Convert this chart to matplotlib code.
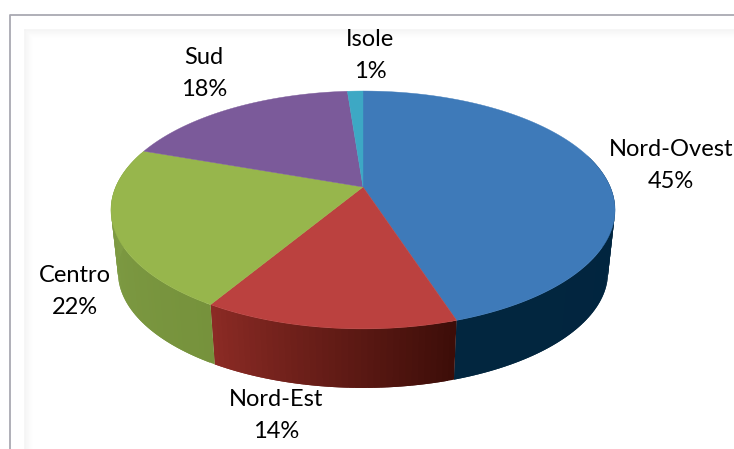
import numpy as np
import matplotlib
matplotlib.use('Agg')
import matplotlib.pyplot as plt
from matplotlib.colors import to_rgb
from matplotlib.patches import Polygon

categories = ['Nord-Ovest', 'Nord-Est', 'Centro', 'Sud', 'Isole']
values = [45.0, 13.6, 21.8, 18.4, 1.2]
shown_pct = [45, 14, 22, 18, 1]

top_colors = ['#3e7ab9', '#bb413f', '#97b64c', '#7b5a9a', '#3da8c4']
# side colour at the left and right end of each slice
side_left = ['#02263f', '#8c2b25', '#82a047', '#5f4678', '#2f8aa0']
side_right = ['#00233f', '#3c0d08', '#76923c', '#5f4678', '#2f8aa0']
label_xy = [(671, 166), (276, 415), (75, 291), (204, 74), (370, 56)]

plt.rcParams['font.family'] = ['Lato', 'DejaVu Sans']

fig = plt.figure(figsize=(7.34, 4.49), dpi=100)
ax = fig.add_axes([0, 0, 1, 1])
ax.set_xlim(0, 734)
ax.set_ylim(449, 0)
ax.axis('off')

# perspective of the disc: the centre sits above the middle of the ellipse
CX = 363
K = 0.193


def project(theta, cy, a, b):
    u = np.sin(theta)
    v = np.cos(theta)
    d = 1 + K * v
    return CX + a * u / d, cy - b * v / d


def top_pt(theta):
    return project(theta, 187, 247.3, 114.5)


def bottom_pt(theta):
    return project(theta, 250, 240.4, 111.3)


# frame and soft inner shadow
for i in range(8):
    c = str(0.955 + i * 0.006)
    ax.plot([25 + i, 25 + i], [30 + i, 449], color=c, lw=1.1, zorder=1)
    ax.plot([25 + i, 734], [30 + i, 30 + i], color=c, lw=1.1, zorder=1)
ax.plot([9.5, 9.5, 734], [449, 14.5, 14.5], color='#a9a9b2', lw=1.3, zorder=2)

edges = np.concatenate([[0], np.cumsum(values)]) / sum(values) * 2 * np.pi

# side wall, thin overlapping strips painted in order so no seams show
for i in range(len(values)):
    th = np.linspace(edges[i], edges[i + 1], max(int(values[i] * 3), 4) + 1)
    c_start = np.array(to_rgb(side_right[i]))
    c_end = np.array(to_rgb(side_left[i]))
    n = len(th) - 1
    for j in range(n):
        if np.cos(th[j]) > 0.3:
            continue
        part = np.linspace(th[j], th[min(j + 2, n)], 8)
        tx, ty = top_pt(part)
        bx, by = bottom_pt(part)
        pts = list(zip(tx, ty)) + list(zip(bx[::-1], by[::-1]))
        f = (j + 0.5) / n
        col = c_start * (1 - f) + c_end * f
        ax.add_patch(Polygon(pts, closed=True, facecolor=col, edgecolor='none', zorder=3))

# top face
for i in range(len(values)):
    th = np.linspace(edges[i], edges[i + 1], 200)
    xs, ys = top_pt(th)
    pts = [(CX, 187)] + list(zip(xs, ys))
    ax.add_patch(Polygon(pts, closed=True, facecolor=top_colors[i],
                         edgecolor=top_colors[i], lw=0.3, zorder=4))

for name, pct, (x, y) in zip(categories, shown_pct, label_xy):
    ax.text(x, y - 16, name, ha='center', va='center', fontsize=17, color='black', zorder=5)
    ax.text(x, y + 16, str(pct) + '%', ha='center', va='center', fontsize=17, color='black', zorder=5)

fig.savefig('out.png', dpi=100)
